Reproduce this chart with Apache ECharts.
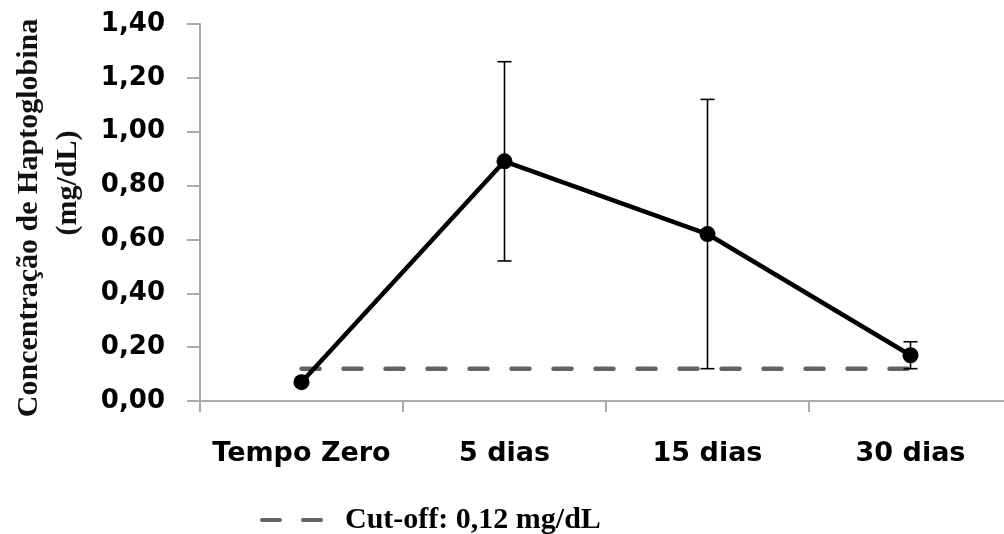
<!DOCTYPE html>
<html>
<head>
<meta charset="utf-8">
<script src="https://cdn.jsdelivr.net/npm/echarts@6/dist/echarts.min.js"></script>
<style>
  html, body { margin: 0; padding: 0; background: #fff; overflow: hidden; }
  /* the category axis runs slightly past the right edge of the view */
  #chart { width: 1012px; height: 534px; }
</style>
</head>
<body>
<div id="chart"></div>
<script>
// Haptoglobin concentration over time (mean ± SD)
const categories = ['Tempo Zero', '5 dias', '15 dias', '30 dias'];
const meanValues = [0.07, 0.89, 0.62, 0.17];
const sdValues = [0.01, 0.37, 0.50, 0.05];
const cutoffValue = 0.12;
const cutoffLabel = 'Cut-off: 0,12 mg/dL';
const yTitleLines = ['Concentração de Haptoglobina', '(mg/dL)'];

const cutoffValues = categories.map(() => cutoffValue);
const errorData = categories.map((c, i) => [i, meanValues[i] - sdValues[i], meanValues[i] + sdValues[i]]);

const chart = echarts.init(document.getElementById('chart'));

const axisGray = '#ababab';
const cutoffGray = '#646464';
const boldSans = { fontFamily: 'DejaVu Sans', fontWeight: 'bold', color: '#000' };

chart.setOption({
  backgroundColor: '#fff',
  animation: false,
  grid: { left: 200, top: 24, bottom: 133, right: 0, containLabel: false },
  xAxis: {
    type: 'category',
    data: categories,
    boundaryGap: true,
    axisLine: { lineStyle: { color: axisGray, width: 2 } },
    axisTick: { show: true, length: 11, interval: 0, alignWithLabel: false, lineStyle: { color: axisGray, width: 2 } },
    axisLabel: Object.assign({ margin: 39, interval: 0, fontSize: 27 }, boldSans),
    splitLine: { show: false }
  },
  yAxis: {
    type: 'value',
    min: 0,
    max: 1.4,
    interval: 0.2,
    axisLine: { show: true, lineStyle: { color: axisGray, width: 2 } },
    axisTick: { show: true, length: 13, lineStyle: { color: axisGray, width: 2 } },
    axisLabel: Object.assign({ margin: 35, fontSize: 26, formatter: v => v.toFixed(2).replace('.', ',') }, boldSans),
    splitLine: { show: false }
  },
  legend: {
    left: 255,
    top: 500,
    data: [{
      name: cutoffLabel,
      // two short dashes, as the dashed cut-off line
      icon: 'path://M2,0 H20 A2,2 0 0 1 20,4 H2 A2,2 0 0 1 2,0 Z M43,0 H61 A2,2 0 0 1 61,4 H43 A2,2 0 0 1 43,0 Z'
    }],
    itemWidth: 63,
    itemHeight: 4.5,
    itemStyle: { color: cutoffGray, borderWidth: 0 },
    textStyle: {
      fontFamily: 'Liberation Serif',
      fontWeight: 'bold',
      fontSize: 30,
      color: '#000',
      padding: [0, 0, 0, 17]
    }
  },
  graphic: [
    {
      type: 'text',
      x: 29, y: 218,
      rotation: Math.PI / 2,
      style: {
        text: yTitleLines[0],
        font: 'bold 30px "Liberation Serif"',
        fill: '#111',
        textAlign: 'center',
        textVerticalAlign: 'middle'
      }
    },
    {
      type: 'text',
      x: 68, y: 183,
      rotation: Math.PI / 2,
      style: {
        text: yTitleLines[1],
        font: 'bold 30px "Liberation Serif"',
        fill: '#111',
        textAlign: 'center',
        textVerticalAlign: 'middle'
      }
    }
  ],
  series: [
    {
      name: cutoffLabel,
      type: 'line',
      data: cutoffValues,
      symbol: 'none',
      z: 2,
      lineStyle: { color: cutoffGray, width: 4.5, type: [18, 24], cap: 'round' },
      itemStyle: { color: cutoffGray }
    },
    {
      name: 'Haptoglobina',
      type: 'line',
      data: meanValues,
      symbol: 'circle',
      symbolSize: 16,
      z: 4,
      lineStyle: { color: '#000', width: 4.5 },
      itemStyle: { color: '#000' }
    },
    {
      name: 'SD',
      type: 'custom',
      z: 5,
      data: errorData,
      renderItem: function (params, api) {
        const x = api.value(0);
        const lo = api.coord([x, api.value(1)]);
        const hi = api.coord([x, api.value(2)]);
        const half = 7;
        const style = { stroke: '#000', lineWidth: 1.6 };
        return {
          type: 'group',
          children: [
            { type: 'line', shape: { x1: hi[0], y1: hi[1], x2: lo[0], y2: lo[1] }, style: style },
            { type: 'line', shape: { x1: hi[0] - half, y1: hi[1], x2: hi[0] + half, y2: hi[1] }, style: style },
            { type: 'line', shape: { x1: lo[0] - half, y1: lo[1], x2: lo[0] + half, y2: lo[1] }, style: style }
          ]
        };
      }
    }
  ]
});
</script>
</body>
</html>
